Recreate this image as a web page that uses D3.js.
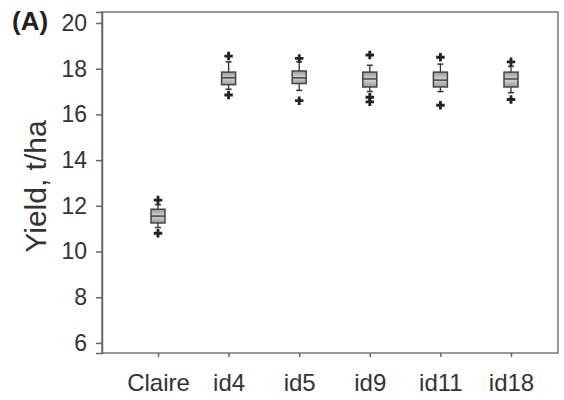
<!DOCTYPE html>
<html>
<head>
<meta charset="utf-8">
<script src="https://cdn.jsdelivr.net/npm/d3@7"></script>
<style>
  body { margin: 0; background: #fff; }
  text { font-family: "Liberation Sans", Arial, sans-serif; }
</style>
</head>
<body>
<div id="chart"></div>
<script>
// data
const categories = ['Claire', 'id4', 'id5', 'id9', 'id11', 'id18']
const whiskerLo = [11.05, 17.1, 17.05, 17.0, 17.0, 16.95]
const q1        = [11.25, 17.3, 17.35, 17.2, 17.2, 17.2]
const median    = [11.55, 17.6, 17.6, 17.55, 17.5, 17.55]
const q3        = [11.85, 17.85, 17.9, 17.85, 17.85, 17.85]
const whiskerHi = [12.05, 18.3, 18.3, 18.15, 18.2, 18.1]
const outliers  = [[12.25, 10.8], [18.55, 16.85], [18.45, 16.6], [18.6, 16.75, 16.55], [18.5, 16.4], [18.3, 16.65]]
const yTicks = [6, 8, 10, 12, 14, 16, 18, 20]

const W = 564, H = 400
const margin = {top: 12, right: 6, bottom: 47, left: 102}

const svg = d3.select('#chart').append('svg')
    .attr('width', W).attr('height', H)

const x = d3.scalePoint().domain(categories).range([158, 511])
const y = d3.scaleLinear().domain([5.56, 20.48]).range([H - margin.bottom, margin.top])

// frame
svg.append('rect')
    .attr('x', margin.left).attr('y', margin.top)
    .attr('width', W - margin.left - margin.right)
    .attr('height', H - margin.top - margin.bottom)
    .attr('fill', 'none').attr('stroke', '#777').attr('stroke-width', 1.5)

// y axis
const yAxis = svg.append('g')
    .attr('transform', `translate(${margin.left},0)`)
    .call(d3.axisLeft(y).tickValues(yTicks).tickSize(6).tickPadding(9))
yAxis.select('.domain').attr('stroke', '#666').attr('stroke-width', 1.5)
yAxis.selectAll('.tick line').attr('stroke', '#666').attr('stroke-width', 1.5)
yAxis.selectAll('.tick text').attr('font-size', 23).attr('fill', '#333')

// x axis
const xAxis = svg.append('g')
    .attr('transform', `translate(0,${H - margin.bottom})`)
    .call(d3.axisBottom(x).tickSize(4).tickPadding(17))
xAxis.select('.domain').remove()
xAxis.selectAll('.tick line').attr('stroke', '#666').attr('stroke-width', 1.5)
xAxis.selectAll('.tick text').attr('font-size', 24).attr('fill', '#333')

// labels
svg.append('text')
    .attr('transform', `translate(46,${(margin.top + H - margin.bottom) / 2 + 4}) rotate(-90)`)
    .attr('text-anchor', 'middle')
    .attr('font-size', 30).attr('fill', '#333')
    .text('Yield, t/ha')

svg.append('text')
    .attr('x', 12).attr('y', 30)
    .attr('font-size', 26).attr('font-weight', 'bold').attr('fill', '#222')
    .text('(A)')

// boxes
const boxes = categories.map((c, i) => ({
  c, lo: whiskerLo[i], q1: q1[i], med: median[i], q3: q3[i], hi: whiskerHi[i], out: outliers[i]
}))

const grad = svg.append('defs').append('linearGradient')
    .attr('id', 'boxfill').attr('x1', 0).attr('x2', 0).attr('y1', 0).attr('y2', 1)
grad.append('stop').attr('offset', '0%').attr('stop-color', '#9a9a9a')
grad.append('stop').attr('offset', '50%').attr('stop-color', '#d4d4d4')
grad.append('stop').attr('offset', '100%').attr('stop-color', '#9a9a9a')

const bw = 14, cap = 6
const g = svg.selectAll('.box').data(boxes).join('g')
    .attr('class', 'box')
    .attr('transform', d => `translate(${x(d.c)},0)`)

g.append('line')
    .attr('y1', d => y(d.hi)).attr('y2', d => y(d.lo))
    .attr('stroke', '#333').attr('stroke-width', 1.3)
g.append('line')
    .attr('x1', -cap / 2).attr('x2', cap / 2)
    .attr('y1', d => y(d.hi)).attr('y2', d => y(d.hi))
    .attr('stroke', '#333').attr('stroke-width', 1.5)
g.append('line')
    .attr('x1', -cap / 2).attr('x2', cap / 2)
    .attr('y1', d => y(d.lo)).attr('y2', d => y(d.lo))
    .attr('stroke', '#333').attr('stroke-width', 1.5)
g.append('rect')
    .attr('x', -bw / 2).attr('width', bw)
    .attr('y', d => y(d.q3)).attr('height', d => y(d.q1) - y(d.q3))
    .attr('fill', 'url(#boxfill)').attr('stroke', '#444').attr('stroke-width', 1.5)
g.append('line')
    .attr('x1', -bw / 2).attr('x2', bw / 2)
    .attr('y1', d => y(d.med)).attr('y2', d => y(d.med))
    .attr('stroke', '#444').attr('stroke-width', 1.5)

g.selectAll('path.out').data(d => d.out).join('path')
    .attr('class', 'out')
    .attr('transform', v => `translate(0,${y(v)})`)
    .attr('d', d3.symbol(d3.symbolCross, 40))
    .attr('fill', '#222')
</script>
</body>
</html>
